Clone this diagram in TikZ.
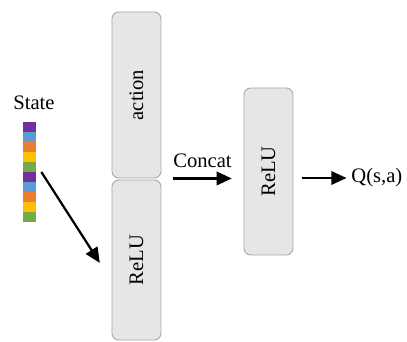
\documentclass[tikz,border=0pt]{standalone}
\usepackage{fontspec}
\setmainfont{Liberation Serif}
\usepackage{graphicx}
\usepackage{tikz}
\usetikzlibrary{positioning,arrows.meta,calc}
\definecolor{stPurple}{RGB}{112,48,160}
\definecolor{stBlue}{RGB}{91,155,213}
\definecolor{stOrange}{RGB}{237,125,49}
\definecolor{stYellow}{RGB}{255,192,0}
\definecolor{stGreen}{RGB}{112,173,71}
\definecolor{layerFill}{RGB}{230,230,230}
\definecolor{layerLine}{RGB}{168,168,168}

\begin{document}
\begin{tikzpicture}[
    x=0.03cm, y=-0.03cm,
    font=\fontsize{17.6}{20}\selectfont,
    layer/.style={rectangle, rounded corners=2mm, draw=layerLine, line width=0.8pt, fill=layerFill, minimum width=1.47cm, inner sep=0pt},
    flow/.style={-{Triangle[length=13pt,width=11.5pt]}, line width=1.9pt}
]
  \useasboundingbox (0,0) rectangle (407,342);

  % state vector
  \node (state) at (34,103) {State};
  \node[minimum width=0.38cm, minimum height=3cm, inner sep=0pt] (bar) at (29.5,172) {};
  \foreach \c [count=\i from 0] in {stPurple,stBlue,stOrange,stYellow,stGreen,stPurple,stBlue,stOrange,stYellow,stGreen}
    \fill[\c] ($(bar.north west)+(0,10*\i)$) rectangle ++(12.7,10);

  % layers
  \node[layer, minimum height=4.98cm] (action) at (136.5,95) {\rotatebox{90}{action}};
  \node[layer, minimum height=4.8cm] (relu1) at (136.5,260) {\rotatebox{90}{ReLU}};
  \node[layer, minimum height=5.01cm] (relu2) at (268.5,171.5) {\rotatebox{90}{ReLU}};
  \node[anchor=west, inner sep=1pt] (q) at (350,178) {Q(s,a)};

  \draw[flow] ([xshift=4.5pt]bar.east) -- ([xshift=-10pt,yshift=-2.5pt]relu1.west);
  \draw[flow] ([xshift=10pt]action.south east) -- node[above=5pt] (concat) {Concat} ([xshift=-10pt]relu2.west |- action.south east);
  \draw[flow] ([xshift=7.5pt]relu2.east |- q.west) -- ([xshift=-3pt]q.west);
\end{tikzpicture}
\end{document}
